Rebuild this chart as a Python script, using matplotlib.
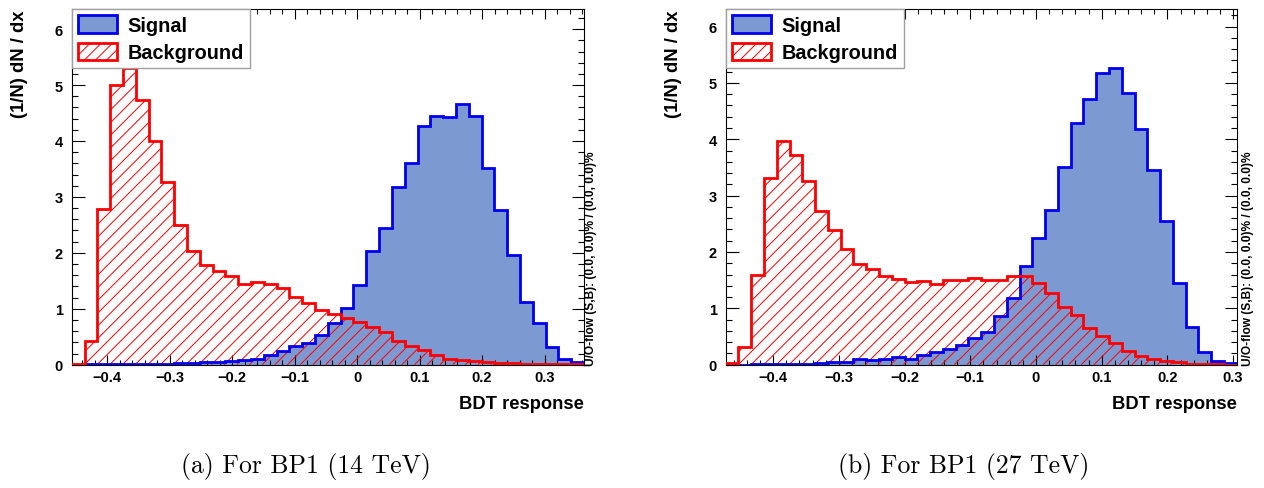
import numpy as np
import matplotlib
matplotlib.use("Agg")
import matplotlib.pyplot as plt
from matplotlib.patches import Patch
from matplotlib.collections import LineCollection
from matplotlib.ticker import MultipleLocator, FixedLocator, FixedFormatter

plt.rcParams['font.family'] = ['Liberation Sans', 'DejaVu Sans']
plt.rcParams['font.weight'] = 'bold'
plt.rcParams['hatch.color'] = '#ff0000'
plt.rcParams['hatch.linewidth'] = 0.7

# ---------------- data ----------------
n_bins = 40
range_14 = (-0.4565, 0.3632)
range_27 = (-0.4723, 0.3055)

signal_14 = [0.00, 0.01, 0.01, 0.01, 0.02, 0.02, 0.02, 0.02, 0.03, 0.03,
             0.04, 0.05, 0.07, 0.09, 0.11, 0.17, 0.25, 0.33, 0.39, 0.53,
             0.74, 1.02, 1.43, 2.03, 2.44, 3.17, 3.60, 4.26, 4.44, 4.42,
             4.66, 4.44, 3.51, 2.76, 1.97, 1.13, 0.74, 0.31, 0.11, 0.04]
background_14 = [0.02, 0.42, 2.79, 5.00, 5.30, 4.74, 4.00, 3.26, 2.49, 2.03,
                 1.78, 1.68, 1.59, 1.44, 1.47, 1.45, 1.37, 1.21, 1.10, 0.98,
                 0.90, 0.83, 0.755, 0.67, 0.58, 0.42, 0.34, 0.27, 0.17, 0.11,
                 0.08, 0.065, 0.05, 0.035, 0.03, 0.02, 0.015, 0.01, 0.01, 0.01]

signal_27 = [0.00, 0.00, 0.01, 0.01, 0.01, 0.02, 0.02, 0.03, 0.04, 0.05,
             0.10, 0.09, 0.11, 0.13, 0.11, 0.17, 0.22, 0.28, 0.35, 0.47,
             0.58, 0.87, 1.18, 1.76, 2.24, 2.74, 3.50, 4.29, 4.72, 5.17,
             5.26, 4.82, 4.19, 3.46, 2.55, 1.45, 0.67, 0.22, 0.07, 0.03]
background_27 = [0.03, 0.32, 1.60, 3.32, 3.97, 3.72, 3.26, 2.73, 2.39, 2.06,
                 1.79, 1.70, 1.58, 1.52, 1.46, 1.48, 1.44, 1.50, 1.50, 1.53,
                 1.50, 1.50, 1.58, 1.58, 1.45, 1.28, 1.03, 0.88, 0.66, 0.51,
                 0.38, 0.24, 0.15, 0.10, 0.06, 0.04, 0.02, 0.01, 0.01, 0.00]

xtick_values = [-0.4, -0.3, -0.2, -0.1, 0.0, 0.1, 0.2, 0.3]
xtick_labels = ['\u22120.4', '\u22120.3', '\u22120.2', '\u22120.1', '0', '0.1', '0.2', '0.3']
ytick_values = [0, 1, 2, 3, 4, 5, 6]
ytick_labels = ['0', '1', '2', '3', '4', '5', '6']
series_labels = ['Signal', 'Background']
captions = ['(a) For BP1 (14 TeV)', '(b) For BP1 (27 TeV)']
xlabel = 'BDT response'
ylabel = '(1/N) dN / dx'
overflow_text = 'U/O-flow (S,B): (0.0, 0.0)% / (0.0, 0.0)%'

# ---------------- style ----------------
SIG_FILL = '#7d99d1'
SIG_LINE = '#0000ee'
BKG_LINE = '#ff0000'

W_PX, H_PX = 1264, 489
fig = plt.figure(figsize=(W_PX / 100, H_PX / 100), dpi=100)

panels = [
    dict(rect=(71.7, 10, 512.3, 355.7), rng=range_14, sig=signal_14, bkg=background_14,
         uo_x=591, cap_x=306),
    dict(rect=(725.7, 10, 511.0, 355.7), rng=range_27, sig=signal_27, bkg=background_27,
         uo_x=1248, cap_x=964),
]


def add_hatch(ax, patch, w_px, h_px, spacing_px=12.7):
    # 45-degree "/" hatch lines in axes coords, clipped to the histogram patch
    sx = spacing_px / w_px
    slope_dx = h_px / w_px
    starts = np.arange(-slope_dx - sx, 1.0 + sx, sx)
    segs = [[(x0, 0.0), (x0 + slope_dx, 1.0)] for x0 in starts]
    lc = LineCollection(segs, colors=BKG_LINE, linewidths=0.7,
                        transform=ax.transAxes, zorder=2)
    ax.add_collection(lc)
    lc.set_clip_path(patch)


for p in panels:
    l, t, w, h = p['rect']
    ax = fig.add_axes([l / W_PX, (H_PX - t - h) / H_PX, w / W_PX, h / H_PX])
    edges = np.linspace(p['rng'][0], p['rng'][1], n_bins + 1)
    sig = np.array(p['sig'])
    bkg = np.array(p['bkg'])

    ax.stairs(sig, edges, fill=True, facecolor=SIG_FILL, edgecolor='none', zorder=1)
    bpatch = ax.stairs(bkg, edges, fill=True, facecolor='none', edgecolor='none', zorder=1)
    add_hatch(ax, bpatch, w, h)
    ax.stairs(sig, edges, color=SIG_LINE, linewidth=2.0, zorder=3)
    ax.stairs(bkg, edges, color=BKG_LINE, linewidth=2.0, zorder=4)

    ax.set_xlim(p['rng'])
    ymax = 1.2 * max(sig.max(), bkg.max())
    ax.set_ylim(0, ymax)

    ax.xaxis.set_major_locator(FixedLocator(xtick_values))
    ax.xaxis.set_major_formatter(FixedFormatter(xtick_labels))
    ax.xaxis.set_minor_locator(MultipleLocator(0.02))
    ax.yaxis.set_major_locator(FixedLocator(ytick_values))
    ax.yaxis.set_major_formatter(FixedFormatter(ytick_labels))
    ax.yaxis.set_minor_locator(MultipleLocator(0.2))
    ax.tick_params(which='both', direction='in', top=True, right=True,
                   labelsize=10.5, width=0.8, color='black')
    ax.tick_params(axis='x', which='major', length=7, pad=4)
    ax.tick_params(axis='x', which='minor', length=3.5)
    ax.tick_params(axis='y', which='major', length=9, pad=6.5)
    ax.tick_params(axis='y', which='minor', length=4.5)
    for s in ax.spines.values():
        s.set_linewidth(0.8)

    ax.set_xlabel(xlabel, loc='right', fontsize=13.2, fontweight='bold')
    ax.xaxis.set_label_coords(1.0, -(405 - (t + h)) / h)
    ax.xaxis.label.set_va('center')
    ax.set_ylabel(ylabel, loc='top', fontsize=13.2, fontweight='bold')
    ax.yaxis.set_label_coords(-52 / w, 1.0)
    ax.yaxis.label.set_va('center')

    handles = [Patch(facecolor=SIG_FILL, edgecolor=SIG_LINE, linewidth=2.0, label=series_labels[0]),
               Patch(facecolor='white', edgecolor=BKG_LINE, linewidth=2.0, hatch='///',
                     label=series_labels[1])]
    leg = ax.legend(handles=handles, loc='upper left', bbox_to_anchor=(0, 1),
                    borderaxespad=0, prop={'weight': 'bold', 'size': 14.3},
                    frameon=True, fancybox=False, edgecolor='#a0a0a0', framealpha=1,
                    handlelength=2.0, handleheight=1.0, handletextpad=0.5,
                    borderpad=0.3, labelspacing=0.4)
    leg.get_frame().set_linewidth(1.0)
    leg.set_zorder(10)

    ax.text(1.0 + (p['uo_x'] - (l + w)) / w, 0.0, overflow_text, rotation=90,
            ha='center', va='bottom', fontsize=8.6, fontweight='bold',
            transform=ax.transAxes)

for p, cap in zip(panels, captions):
    fig.text(p['cap_x'] / W_PX, 1 - 467 / H_PX, cap, ha='center', va='center',
             fontsize=18.5, fontfamily='cmr10', fontweight='normal')

fig.savefig('out.png', dpi=100)
